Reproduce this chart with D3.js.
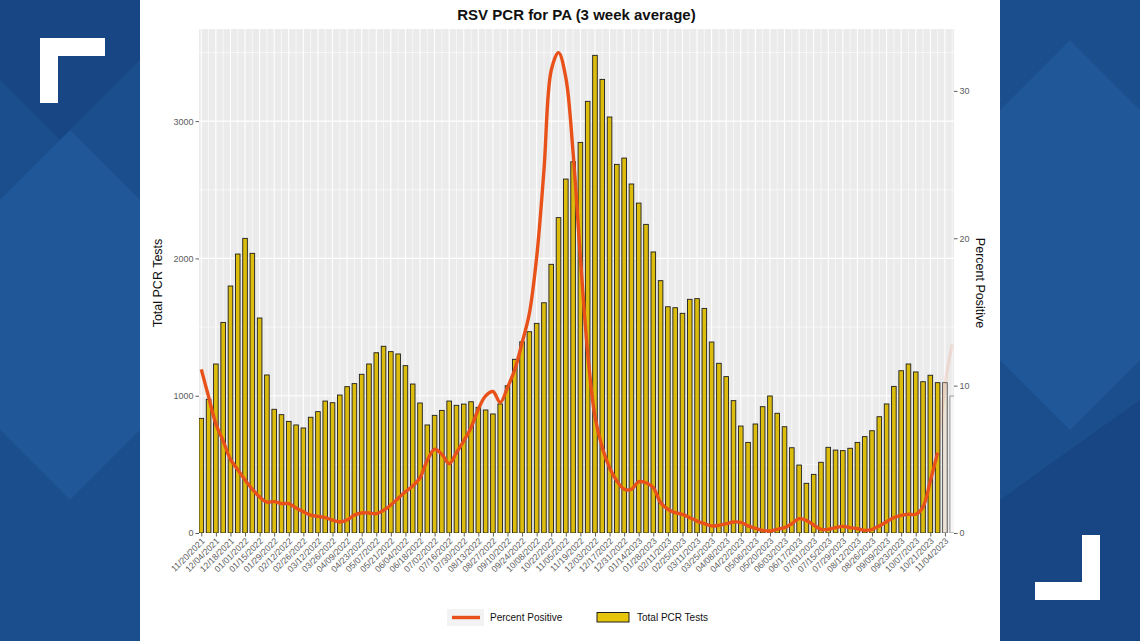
<!DOCTYPE html>
<html>
<head>
<meta charset="utf-8">
<script src="https://cdn.jsdelivr.net/npm/d3@7"></script>
<style>
  html, body { margin: 0; padding: 0; background: #1b4e8d; }
  svg { display: block; }
</style>
</head>
<body>
<script>
// ---------------- DATA ----------------
const weeks = [
  "11/20/2021","11/27/2021","12/04/2021","12/11/2021","12/18/2021","12/25/2021",
  "01/01/2022","01/08/2022","01/15/2022","01/22/2022","01/29/2022","02/05/2022",
  "02/12/2022","02/19/2022","02/26/2022","03/05/2022","03/12/2022","03/19/2022",
  "03/26/2022","04/02/2022","04/09/2022","04/16/2022","04/23/2022","04/30/2022",
  "05/07/2022","05/14/2022","05/21/2022","05/28/2022","06/04/2022","06/11/2022",
  "06/18/2022","06/25/2022","07/02/2022","07/09/2022","07/16/2022","07/23/2022",
  "07/30/2022","08/06/2022","08/13/2022","08/20/2022","08/27/2022","09/03/2022",
  "09/10/2022","09/17/2022","09/24/2022","10/01/2022","10/08/2022","10/15/2022",
  "10/22/2022","10/29/2022","11/05/2022","11/12/2022","11/19/2022","11/26/2022",
  "12/03/2022","12/10/2022","12/17/2022","12/24/2022","12/31/2022","01/07/2023",
  "01/14/2023","01/21/2023","01/28/2023","02/04/2023","02/11/2023","02/18/2023",
  "02/25/2023","03/04/2023","03/11/2023","03/18/2023","03/25/2023","04/01/2023",
  "04/08/2023","04/15/2023","04/22/2023","04/29/2023","05/06/2023","05/13/2023",
  "05/20/2023","05/27/2023","06/03/2023","06/10/2023","06/17/2023","06/24/2023",
  "07/01/2023","07/08/2023","07/15/2023","07/22/2023","07/29/2023","08/05/2023",
  "08/12/2023","08/19/2023","08/26/2023","09/02/2023","09/09/2023","09/16/2023",
  "09/23/2023","09/30/2023","10/07/2023","10/14/2023","10/21/2023","10/28/2023",
  "11/04/2023","11/11/2023"
];

const totalTests = [
  835, 974, 1231, 1534, 1799, 2032, 2146, 2037, 1566, 1151,
  901, 862, 813, 787, 765, 843, 884, 961, 949, 1005,
  1066, 1088, 1156, 1231, 1313, 1360, 1321, 1304, 1219, 1085,
  947, 787, 857, 893, 961, 930, 939, 956, 915, 896,
  867, 940, 1073, 1265, 1393, 1466, 1527, 1677, 1957, 2297,
  2578, 2704, 2845, 3144, 3479, 3304, 3030, 2685, 2731, 2542,
  2403, 2248, 2047, 1838, 1648, 1641, 1600, 1702, 1707, 1636,
  1391, 1236, 1139, 964, 779, 660, 794, 920, 998, 872,
  774, 621, 495, 362, 427, 515, 624, 604, 600, 617,
  660, 702, 745, 847, 940, 1068, 1182, 1231, 1173, 1102,
  1149, 1095, 1095, 998
];

// Percent positive, weeks 0..101
const percentPositive = [
  11.1, 9.25, 7.4, 6.25, 5.0, 4.3, 3.6, 2.97, 2.44, 2.1,
  2.13, 2.0, 2.0, 1.7, 1.45, 1.22, 1.13, 1.04, 0.88, 0.75,
  0.88, 1.22, 1.36, 1.36, 1.31, 1.54, 1.9, 2.35, 2.8, 3.19,
  3.75, 4.93, 5.68, 5.34, 4.7, 5.45, 6.25, 7.15, 8.4, 9.3,
  9.6, 8.85, 9.87, 11.1, 12.9, 14.9, 18.7, 24.6, 31.4, 32.6,
  30.9, 25.8, 18.7, 12.2, 7.9, 5.8, 4.43, 3.53, 2.97, 2.97,
  3.48, 3.41, 3.08, 2.06, 1.61, 1.38, 1.27, 1.04, 0.81, 0.63,
  0.48, 0.52, 0.63, 0.75, 0.72, 0.48, 0.32, 0.18, 0.14, 0.25,
  0.36, 0.63, 0.97, 0.86, 0.54, 0.25, 0.25, 0.36, 0.45, 0.36,
  0.29, 0.18, 0.25, 0.48, 0.77, 1.04, 1.2, 1.27, 1.27, 1.77,
  3.53, 5.45
];
// faint (fading) continuation visible at the right edge, weeks 101..103
const percentFaded = [5.45, 10.0, 12.8];

const tickLabels = weeks.filter((d, i) => i % 2 === 0);
const leftTicks = [0, 1000, 2000, 3000];
const leftMinor = [500, 1500, 2500, 3500];
const rightTicks = [0, 10, 20, 30];
const legendLabels = ["Percent Positive", "Total PCR Tests"];
const titleText = "RSV PCR for PA (3 week average)";

// ---------------- LAYOUT ----------------
const W = 1140, H = 641;
const P = { left: 199, right: 954, top: 29, bottom: 533 };
const FONT = "'Liberation Sans', Arial, sans-serif";

const svg = d3.select("body").append("svg")
  .attr("width", W).attr("height", H)
  .attr("font-family", FONT);

// background frame
const bg = svg.append("g");
bg.append("rect").attr("width", W).attr("height", H).attr("fill", "#1b4e8d");
bg.append("polygon").attr("points", "0,200 70,130 140,200 140,430 70,500 0,430").attr("fill", "#1f5798");
bg.append("polygon").attr("points", "0,0 140,0 140,60 60,140 0,80").attr("fill", "#184684");
bg.append("polygon").attr("points", "1000,110 1070,40 1140,110 1140,360 1070,430 1000,360").attr("fill", "#1f5798");
bg.append("polygon").attr("points", "1000,500 1140,400 1140,641 1000,641").attr("fill", "#184684");
// corner brackets
bg.append("path").attr("d", "M40,38 H105 V56 H58 V103 H40 Z").attr("fill", "#ffffff");
bg.append("path").attr("d", "M1100,600 H1035 V582 H1082 V535 H1100 Z").attr("fill", "#ffffff");
// white chart card
svg.append("rect").attr("x", 140).attr("y", 0).attr("width", 860).attr("height", H).attr("fill", "#ffffff");

// ---------------- SCALES ----------------
const x = d3.scaleLinear().domain([0, weeks.length - 1]).range([201.3, 952.2]);
const yL = d3.scaleLinear().domain([0, 3671]).range([P.bottom, P.top]);
const yR = d3.scaleLinear().domain([0, 34.2]).range([P.bottom, P.top]);

// panel
svg.append("rect").attr("x", P.left).attr("y", P.top)
  .attr("width", P.right - P.left).attr("height", P.bottom - P.top)
  .attr("fill", "#EBEBEB");

const grid = svg.append("g");
grid.selectAll(".hmin").data(leftMinor).join("line")
  .attr("x1", P.left).attr("x2", P.right)
  .attr("y1", d => yL(d)).attr("y2", d => yL(d))
  .attr("stroke", "#fff").attr("stroke-width", 0.6);
grid.selectAll(".hmaj").data(leftTicks).join("line")
  .attr("x1", P.left).attr("x2", P.right)
  .attr("y1", d => yL(d)).attr("y2", d => yL(d))
  .attr("stroke", "#fff").attr("stroke-width", 1.1);
grid.selectAll(".v").data(weeks).join("line")
  .attr("x1", (d, i) => x(i)).attr("x2", (d, i) => x(i))
  .attr("y1", P.top).attr("y2", P.bottom)
  .attr("stroke", "#fff").attr("stroke-width", (d, i) => i % 2 === 0 ? 1.1 : 0.6);

svg.append("clipPath").attr("id", "clip").append("rect")
  .attr("x", P.left).attr("y", P.top - 5)
  .attr("width", P.right - P.left).attr("height", P.bottom - P.top + 5);

const plot = svg.append("g").attr("clip-path", "url(#clip)");

// bars
const bw = 4.6;
const nFull = 102;
plot.selectAll(".bar").data(totalTests).join("rect")
  .attr("x", (d, i) => x(i) - bw / 2)
  .attr("y", d => yL(d))
  .attr("width", bw)
  .attr("height", d => yL(0) - yL(d))
  .attr("fill", (d, i) => i < nFull ? "#dcbc0c" : (i === nFull ? "#ebe3d6" : "#f6f6f6"))
  .attr("stroke", (d, i) => i < nFull ? "#1e1e1e" : (i === nFull ? "#4a4a46" : "#8a8a8a"))
  .attr("stroke-width", 0.9);

// faint continuation
const fadedIdx = [101, 102, 103];
plot.append("path")
  .datum(percentFaded)
  .attr("d", d3.line().x((d, i) => x(fadedIdx[i])).y(d => yR(d)).curve(d3.curveMonotoneX))
  .attr("fill", "none").attr("stroke", "#e8521a").attr("stroke-width", 3.2)
  .attr("opacity", 0.12);

// percent positive line
plot.append("path")
  .datum(percentPositive)
  .attr("d", d3.line().x((d, i) => x(i)).y(d => yR(d)).curve(d3.curveCatmullRom.alpha(0.5)))
  .attr("fill", "none").attr("stroke", "#e8521a").attr("stroke-width", 3.4)
  .attr("stroke-linejoin", "round").attr("stroke-linecap", "butt");

// ---------------- AXES ----------------
const axisCol = "#333";
const textCol = "#5c5c5c";

// left axis
const gL = svg.append("g").attr("transform", `translate(${P.left},0)`)
  .call(d3.axisLeft(yL).tickValues(leftTicks).tickSize(3.5).tickPadding(2).tickFormat(d3.format("d")));
gL.select(".domain").remove();
gL.selectAll("line").attr("stroke", axisCol).attr("stroke-width", 0.8);
gL.selectAll("text").attr("fill", textCol).attr("font-size", 9).attr("font-family", FONT);

// right axis
const gR = svg.append("g").attr("transform", `translate(${P.right},0)`)
  .call(d3.axisRight(yR).tickValues(rightTicks).tickSize(3.5).tickPadding(2).tickFormat(d3.format("d")));
gR.select(".domain").remove();
gR.selectAll("line").attr("stroke", axisCol).attr("stroke-width", 0.8);
gR.selectAll("text").attr("fill", textCol).attr("font-size", 9).attr("font-family", FONT);

// bottom axis
const tickIdx = weeks.map((d, i) => i).filter(i => i % 2 === 0);
const gB = svg.append("g").attr("transform", `translate(0,${P.bottom})`)
  .call(d3.axisBottom(x).tickValues(tickIdx).tickSize(3.5).tickFormat((d, k) => tickLabels[k]));
gB.select(".domain").remove();
gB.selectAll("line").attr("stroke", axisCol).attr("stroke-width", 0.8);
gB.selectAll("text")
  .attr("fill", textCol).attr("font-size", 8.8).attr("font-family", FONT)
  .attr("text-anchor", "end")
  .attr("dy", null).attr("y", null)
  .attr("transform", "translate(2,7) rotate(-45)")
  .attr("dominant-baseline", "middle");

// titles
svg.append("text").attr("x", (P.left + P.right) / 2).attr("y", 20)
  .attr("text-anchor", "middle").attr("font-size", 15).attr("font-weight", "bold")
  .attr("fill", "#111").text(titleText);

svg.append("text").attr("transform", `translate(162,${(P.top + P.bottom) / 2 + 2}) rotate(-90)`)
  .attr("text-anchor", "middle").attr("font-size", 12.5).attr("fill", "#111")
  .text("Total PCR Tests");

svg.append("text").attr("transform", `translate(976,${(P.top + P.bottom) / 2 + 2}) rotate(90)`)
  .attr("text-anchor", "middle").attr("font-size", 12.5).attr("fill", "#111")
  .text("Percent Positive");

// legend
const lg = svg.append("g");
lg.append("rect").attr("x", 447).attr("y", 609).attr("width", 37).attr("height", 17).attr("fill", "#f3f3f3");
lg.append("line").attr("x1", 452).attr("x2", 480).attr("y1", 617.5).attr("y2", 617.5)
  .attr("stroke", "#e8521a").attr("stroke-width", 3.4);
lg.append("text").attr("x", 490).attr("y", 621).attr("font-size", 10).attr("fill", "#111").text(legendLabels[0]);
lg.append("rect").attr("x", 597).attr("y", 612.5).attr("width", 32).attr("height", 9.5)
  .attr("fill", "#e6c50a").attr("stroke", "#1e1e1e").attr("stroke-width", 1);
lg.append("text").attr("x", 637).attr("y", 621).attr("font-size", 10).attr("fill", "#111").text(legendLabels[1]);
</script>
</body>
</html>
